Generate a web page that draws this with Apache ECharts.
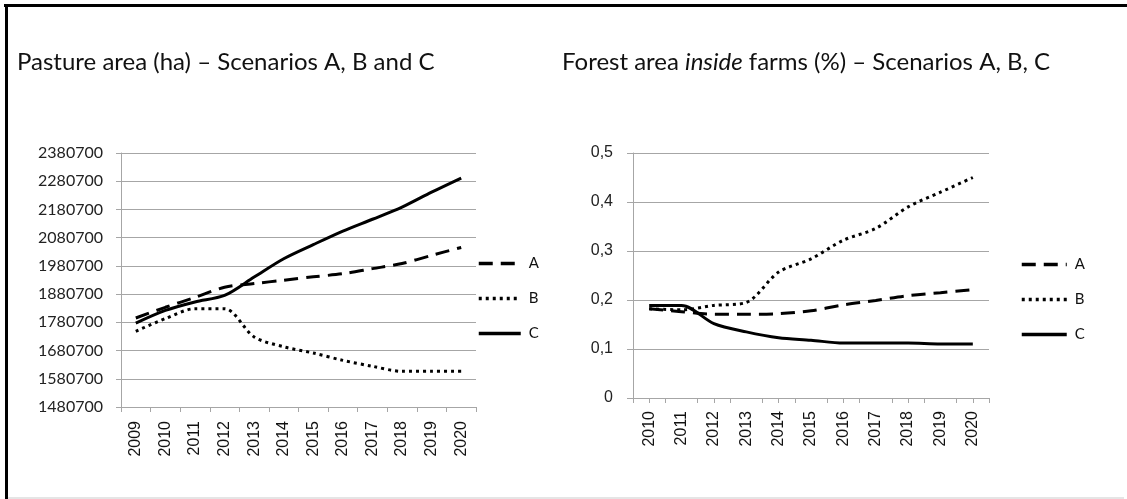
<!DOCTYPE html>
<html>
<head>
<meta charset="utf-8">
<script src="https://cdn.jsdelivr.net/npm/echarts@6/dist/echarts.min.js"></script>
<style>
html,body{margin:0;padding:0;background:#fff;}
#chart{width:1127px;height:499px;}
</style>
</head>
<body>
<div id="chart"></div>
<script>
// ---- data ----
const pastureYears = ['2009','2010','2011','2012','2013','2014','2015','2016','2017','2018','2019','2020'];
const pastureA = [1796000, 1834000, 1869000, 1905000, 1918000, 1930000, 1942000, 1953000, 1971000, 1989000, 2018000, 2046000];
const pastureB = [1749000, 1794000, 1829000, 1829000, 1729000, 1694000, 1672000, 1646000, 1625000, 1607000, 1607000, 1607000];
const pastureC = [1778000, 1823000, 1853000, 1876000, 1941000, 2006000, 2056000, 2104000, 2146000, 2189000, 2242000, 2292000];

const forestYears = ['2010','2011','2012','2013','2014','2015','2016','2017','2018','2019','2020'];
const forestA = [0.182, 0.176, 0.171, 0.171, 0.172, 0.178, 0.190, 0.199, 0.209, 0.215, 0.221];
const forestB = [0.182, 0.180, 0.189, 0.195, 0.257, 0.284, 0.322, 0.346, 0.390, 0.420, 0.450];
const forestC = [0.189, 0.189, 0.152, 0.135, 0.123, 0.118, 0.112, 0.112, 0.112, 0.110, 0.110];

const scenarioNames = ['A', 'B', 'C'];
const title1 = 'Pasture area (ha) – Scenarios A, B and C';

// ---- styles ----
const gray = '#a6a6a6';
const styleFor = {
  A: { color: '#000', width: 3, type: [14, 8] },
  B: { color: '#000', width: 3, type: [3, 4] },
  C: { color: '#000', width: 3, type: 'solid' }
};
const smoothVal = 0.3;

function mkSeries(name, data, xi, yi) {
  return {
    name: name, type: 'line', data: data, xAxisIndex: xi, yAxisIndex: yi,
    symbol: 'none', smooth: smoothVal, lineStyle: styleFor[name],
    itemStyle: { color: '#000' }, emphasis: { disabled: true }, silent: true, animation: false
  };
}

const legendText = { fontFamily: 'Lato', fontSize: 15, color: '#111', padding: [0, 0, 0, 3] };
const titleFont = 24;

const chart = echarts.init(document.getElementById('chart'));
const option = {
  animation: false,
  backgroundColor: '#fff',
  title: [
    { text: title1, left: 12, top: 45, textStyle: { fontFamily: 'Lato', fontSize: titleFont, fontWeight: 'normal', color: '#111' } },
    { text: '{n|Forest area }{i|inside}{n| farms (%) – Scenarios A, B, C}', left: 557, top: 45,
      textStyle: { fontWeight: 'normal', rich: {
        n: { fontFamily: 'Lato', fontSize: titleFont, fontWeight: 'normal', color: '#111' },
        i: { fontFamily: 'Lato', fontSize: titleFont, fontWeight: 'normal', fontStyle: 'italic', color: '#111' }
      } } }
  ],
  legend: [
    { data: scenarioNames, orient: 'vertical', left: 472, top: 251, itemWidth: 42, itemHeight: 14, itemGap: 20,
      itemStyle: { opacity: 0 }, lineStyle: { width: 3.5 },
      textStyle: legendText, selectedMode: false },
    { data: scenarioNames, orient: 'vertical', left: 1015, top: 252, itemWidth: 45, itemHeight: 14, itemGap: 20,
      itemStyle: { opacity: 0 }, lineStyle: { width: 3.5 },
      textStyle: legendText, selectedMode: false }
  ],
  grid: [
    { left: 121, right: 651, top: 153, bottom: 92 },
    { left: 633, right: 138, top: 153, bottom: 101 }
  ],
  xAxis: [
    { type: 'category', gridIndex: 0, data: pastureYears, boundaryGap: true,
      axisLine: { lineStyle: { color: gray } },
      axisTick: { show: true, length: 5, lineStyle: { color: gray } },
      axisLabel: { rotate: 90, margin: 14, fontFamily: 'Liberation Sans', fontSize: 16, color: '#111' } },
    { type: 'category', gridIndex: 1, data: forestYears, boundaryGap: true, position: 'bottom',
      axisLine: { lineStyle: { color: gray } },
      axisTick: { show: true, length: 5, lineStyle: { color: gray } },
      axisLabel: { rotate: 90, margin: 13, fontFamily: 'Liberation Sans', fontSize: 16, color: '#111' } },
    { type: 'category', gridIndex: 1, data: forestYears, boundaryGap: true, position: 'bottom',
      axisLine: { show: false },
      axisTick: { show: true, length: 5, alignWithLabel: true, lineStyle: { color: gray } },
      axisLabel: { show: false } }
  ],
  yAxis: [
    { type: 'value', gridIndex: 0, min: 1480700, max: 2380700, interval: 100000,
      axisLine: { show: true, lineStyle: { color: gray } },
      axisTick: { show: true, length: 5, lineStyle: { color: gray } },
      splitLine: { lineStyle: { color: gray } },
      axisLabel: { margin: 18, fontFamily: 'Lato', fontSize: 16, color: '#222', formatter: v => String(Math.round(v)) } },
    { type: 'value', gridIndex: 1, min: 0, max: 0.5, interval: 0.1,
      axisLine: { show: true, lineStyle: { color: gray } },
      axisTick: { show: true, length: 6, lineStyle: { color: gray } },
      splitLine: { lineStyle: { color: gray } },
      axisLabel: { margin: 20, fontFamily: 'Liberation Sans', fontSize: 16, color: '#222',
        formatter: v => String(Math.round(v * 10) / 10).replace('.', ',') } }
  ],
  series: [
    mkSeries('A', pastureA, 0, 0),
    mkSeries('B', pastureB, 0, 0),
    mkSeries('C', pastureC, 0, 0),
    mkSeries('A', forestA, 1, 1),
    mkSeries('B', forestB, 1, 1),
    mkSeries('C', forestC, 1, 1)
  ],
  graphic: [
    { type: 'line', shape: { x1: 4, y1: 5.5, x2: 1127, y2: 5.5 }, style: { stroke: '#000', lineWidth: 3 }, silent: true },
    { type: 'line', shape: { x1: 6.5, y1: 4, x2: 6.5, y2: 499 }, style: { stroke: '#000', lineWidth: 3 }, silent: true },
    { type: 'line', shape: { x1: 8, y1: 498, x2: 1124, y2: 498 }, style: { stroke: '#dcdcdc', lineWidth: 1.5 }, silent: true }
  ]
};
chart.setOption(option);
</script>
</body>
</html>
